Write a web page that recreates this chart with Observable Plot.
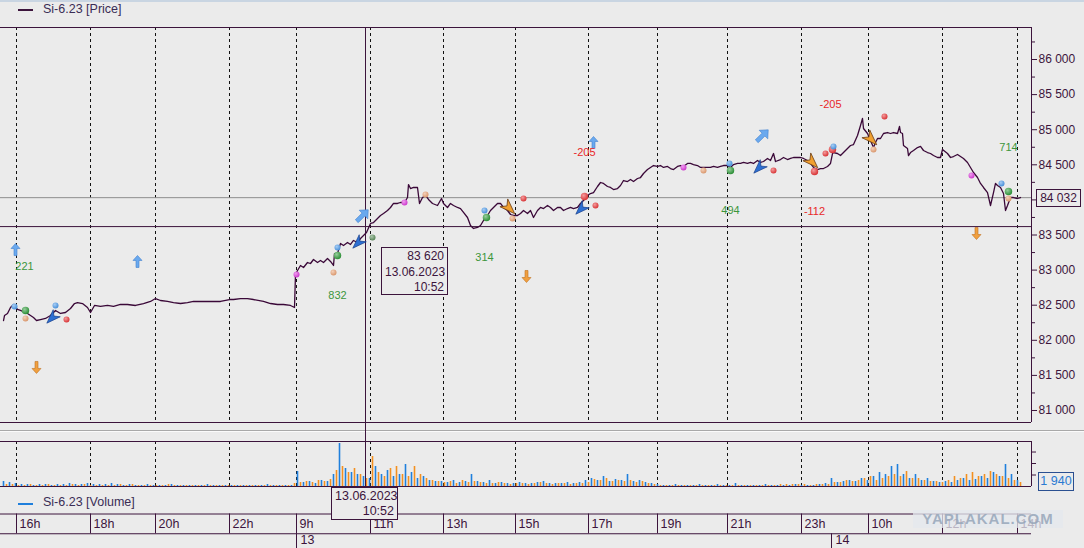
<!DOCTYPE html>
<html><head><meta charset="utf-8">
<script src="https://cdn.jsdelivr.net/npm/d3@7"></script>
<script src="https://cdn.jsdelivr.net/npm/@observablehq/plot@0.6"></script>
<style>
body{margin:0;background:#ebebeb;}
#wrap{position:relative;width:1084px;height:548px;overflow:hidden;background:#ebebeb;font-family:"Liberation Sans",Arial,sans-serif;color:#3c143c;}
.abs{position:absolute;}
.box{position:absolute;border:1px solid #3c143c;background:#ebebeb;text-align:right;font-size:12px;line-height:15px;padding:0 3px;box-sizing:border-box;white-space:nowrap;}
.leg{position:absolute;font-size:12.5px;color:#3a2d55;white-space:nowrap;}
.dash{position:absolute;height:1.5px;width:15px;}
</style></head><body><div id="wrap"></div>
<script>
// ---------------- data ----------------
const instrument = "Si-6.23";
const hourBars   = [16, 90, 155, 229, 296, 370, 443, 515, 588, 657, 727, 801, 868, 942, 1017];
const hourLabels = ["16h","18h","20h","22h","9h","11h","13h","15h","17h","19h","21h","23h","10h","12h","14h"];
const dayBars    = [296, 831];
const dayLabels  = ["13", "14"];
const priceTicks = [81000, 81500, 82000, 82500, 83000, 83500, 84000, 84500, 85000, 85500, 86000];
const lastPrice  = 84032;
const lastVolume = 1940;
const cursorBar  = 365;
const cursorPrice = 83620;
const cursorDate = "13.06.2023";
const cursorTime = "10:52";

const priceSeries = [[3,82282],[4,82353],[7,82382],[10,82467],[13,82510],[17,82439],[20,82425],[27,82382],[33,82325],[36,82282],[40,82296],[45,82311],[50,82353],[55,82425],[60,82382],[65,82396],[70,82453],[74,82524],[77,82538],[82,82524],[87,82467],[90,82396],[94,82496],[100,82482],[107,82496],[113,82482],[120,82510],[127,82510],[135,82496],[143,82524],[150,82553],[155,82595],[160,82567],[167,82553],[173,82538],[180,82524],[187,82538],[193,82553],[200,82553],[207,82553],[213,82553],[220,82553],[229,82581],[233,82581],[240,82595],[247,82595],[253,82581],[263,82553],[270,82524],[277,82510],[283,82510],[290,82496],[294,82467],[295,82937],[297,82994],[300,83066],[303,83037],[307,83108],[310,83094],[313,83151],[317,83108],[320,83137],[323,83108],[327,83165],[330,83123],[333,83066],[334,83236],[337,83236],[340,83379],[343,83350],[347,83393],[350,83365],[353,83422],[357,83393],[360,83450],[363,83493],[366,83536],[370,83664],[373,83678],[377,83735],[380,83778],[383,83806],[387,83849],[390,83892],[393,83949],[397,83949],[400,83963],[404,83963],[407,84034],[408,84219],[410,84162],[413,84177],[417,84177],[419,83949],[422,84034],[425,84063],[428,84006],[432,83949],[437,83920],[441,84020],[443,83949],[447,83892],[450,83949],[453,83920],[457,83892],[460,83877],[463,83821],[467,83749],[470,83635],[473,83593],[477,83607],[480,83635],[483,83707],[487,83778],[490,83849],[493,83892],[497,83949],[500,83949],[503,83892],[507,83849],[510,83792],[513,83778],[517,83778],[520,83806],[523,83849],[527,83806],[530,83849],[533,83749],[537,83849],[540,83892],[543,83877],[547,83920],[550,83892],[553,83849],[557,83892],[560,83892],[563,83849],[567,83877],[570,83892],[573,83877],[577,83892],[580,83949],[583,83991],[587,84063],[590,84091],[593,84105],[597,84191],[600,84248],[603,84234],[607,84191],[610,84177],[613,84148],[617,84162],[620,84205],[623,84276],[627,84262],[630,84291],[633,84262],[637,84305],[640,84319],[643,84376],[647,84433],[650,84462],[653,84490],[657,84476],[660,84490],[663,84462],[667,84476],[670,84447],[673,84433],[677,84476],[680,84490],[683,84476],[687,84519],[690,84519],[693,84504],[697,84490],[700,84462],[703,84462],[707,84462],[710,84462],[713,84476],[717,84462],[720,84476],[723,84490],[727,84490],[730,84462],[733,84504],[737,84519],[740,84519],[743,84533],[747,84519],[750,84533],[753,84519],[757,84561],[760,84533],[763,84547],[767,84590],[770,84561],[773,84661],[775,84547],[780,84575],[783,84604],[787,84575],[790,84590],[793,84604],[797,84604],[800,84604],[803,84590],[807,84561],[810,84519],[813,84462],[817,84433],[820,84447],[823,84447],[827,84476],[830,84519],[832,84661],[833,84675],[837,84661],[840,84632],[843,84675],[847,84732],[850,84775],[853,84789],[857,84917],[860,85060],[862,85160],[863,85017],[867,84946],[870,84846],[873,84746],[875,84818],[877,84875],[880,84875],[883,84946],[887,84960],[890,84946],[893,84960],[897,84946],[899,85046],[900,84960],[902,84946],[903,84775],[907,84732],[908,84632],[910,84675],[913,84704],[917,84746],[920,84761],[923,84704],[927,84675],[930,84661],[933,84632],[937,84604],[940,84604],[942,84718],[947,84661],[950,84604],[953,84618],[957,84647],[960,84618],[963,84590],[967,84533],[970,84462],[973,84390],[977,84319],[980,84234],[983,84177],[987,84105],[990,83920],[993,84105],[995,84234],[997,84205],[1000,84177],[1003,84091],[1005,83849],[1007,83920],[1010,84034],[1013,84034],[1017,84020],[1020,84034]];

// signal balls: [bar, price, kind, big?]
const balls = [[14,82482,"blue",0],[25,82311,"peach",0],[25,82425,"green",1],[55,82496,"blue",0],[66,82296,"red",0],
 [296,82937,"magenta",0],[333,82966,"peach",0],[337,83322,"blue",0],[337,83208,"green",1],[372,83464,"darkgreen",0],
 [404,83963,"magenta",0],[425,84077,"peach",0],[484,83849,"blue",0],[486,83749,"green",1],[512,83735,"peach",0],[523,84020,"red",0],
 [584,84048,"red",1],[595,83920,"red",0],[683,84462,"magenta",0],[703,84419,"peach",0],[729,84519,"blue",0],[730,84419,"green",1],
 [773,84419,"red",0],[814,84405,"red",1],[825,84661,"red",0],[832,84718,"red",1],[833,84761,"blue",0],[873,84718,"peach",0],
 [884,85188,"red",0],[971,84348,"magenta",0],[1001,84234,"blue",0],[1008,84020,"peach",0],[1008,84120,"green",1]];
const upArrows      = [[15,83293],[137,83123],[593,84818]];
const downArrows    = [[36,81613],[526,82909],[976,83521]];
const diagArrows    = [[362,83778],[762,84917]];
const blueCursors   = [[52,82325],[358,83393],[581,83877],[759,84462]];
const orangeCursors = [[508,83892],[811,84547],[870,84875]];
const greenLabels = [[24,83051,"221"],[337,82638,"832"],[484,83179,"314"],[730,83849,"494"],[1008,84746,"714"]];
const redLabels   = [[584,84675,"-205"],[830,85359,"-205"],[814,83835,"-112"]];

// volume (contracts), buy/sell sampled along bars
const buyVolume = [
 2180,1740,1300,870,870,430,870,870,430,870, 870,1300,870,870,1300,870,870,870,1300,870, 430,870,430,430,870,430,430,430,870,430, 430,430,430,430,870,430,430,430,430,430, 430,430,430,430,870,430,430,430,430,
 6530,1740,2180,1300,2610,2180,5220,18700,7830,6090,5220,4350,3480,
 8700,5220,6960,4350,5220,9570,6090,3480,4350,2610,2180,
 2180,1740,2610,1740,2180,5220,2180,1740,2610,1300,1740,1300,1300,1740,1300,1300,1740,2180,1300,1300,1300,1740,1300,1740,2610,
 3480,2610,4350,2180,3050,2610,5220,2180,2610,1740,1300,
 870,430,430,870,430,430,430,870,430,430, 870,430,430,1300,430,430,430,430,870,430, 430,430,430,870,430,430,430,870,1300,3480,
 1740,2180,2610,2180,3480,2610,4350,6090,5220,8700,9570,5220,3480,5220,2610,3480,2180,1740,
 2180,1740,2610,3480,2610,3050,4350,3480,6090,4350,9570,5220,2610];
const sellVolume = [
 870,870,430,430,870,430,430,870,430,430, 430,870,430,870,430,430,430,430,430,870, 430,870,430,430,430,430,430,870,430,430, 430,430,430,430,430,430,430,430,430,430, 430,430,430,430,430,430,430,430,1300,
 1740,2180,1740,2610,2180,3050,6960,8700,6090,7830,5220,3480,13050,
 6090,4350,7830,8700,5220,4350,8700,5220,3480,2610,2180,
 1740,2180,1300,2610,1740,2180,1740,1300,1300,1740,1300,870,1300,1300,870,1300,1740,1300,870,1300,1300,870,1300,1300,1740,
 3050,2610,3480,2180,2610,2180,2610,1740,2180,1300,870,
 430,430,430,430,430,430,430,430,430,430, 430,430,430,430,430,430,430,430,430,430, 870,870,870,870,870,430,870,870,870,1740,
 1740,2610,2180,2610,3480,4350,2610,3480,4350,5220,4350,6530,3480,3480,2610,2180,2180,1740,
 2610,4350,3480,5220,6090,4350,5220,6530,5220,4350,3480,2610,1740];
const buyBars  = d3.range(3, 1018, 6);
const sellBars = d3.range(6, 1021, 6);

// ---------------- styling ----------------
const ink = "#3c143c";
const W = 1084, MR = 53;
const xDomain = [0, 1031];
const priceDomain = [80829, 86456];
const volDomain = [0, 19575];
const fmt = d => d3.format(",")(d).replace(/,/g, " ");
const ballColors = {blue:"#4e9be9", green:"#2f9a3a", peach:"#e9a275", red:"#e8383a", magenta:"#dc3cdc", darkgreen:"#5d8f5d"};
const baseStyle = {background:"transparent", overflow:"visible", fontFamily:"'Liberation Sans', Arial, sans-serif", fontSize:"12px", color: ink};

function shape(points, angle, scale = 1) {
  const c = Math.cos(angle), s = Math.sin(angle);
  return {draw(ctx) {
    points.forEach(([x, y], i) => {
      const X = (x * c - y * s) * scale, Y = (x * s + y * c) * scale;
      i ? ctx.lineTo(X, Y) : ctx.moveTo(X, Y);
    });
    ctx.closePath();
  }};
}
const blockArrow = [[0,-6],[4.5,-1],[1.5,-1],[1.5,6],[-1.5,6],[-1.5,-1],[-4.5,-1]];
const pointer = [[0,8],[-5,-6],[0,-2],[5,-6]];

const wrap = document.getElementById("wrap");
function place(el, top) { el.style.position = "absolute"; el.style.left = "0px"; el.style.top = top + "px"; wrap.appendChild(el); return el; }
function div(cls, css, html) { const d = document.createElement("div"); if (cls) d.className = cls; d.style.cssText = css; if (html != null) d.innerHTML = html; wrap.appendChild(d); return d; }

// top strip and legends
div("abs", "left:0;top:0;width:1084px;height:2px;background:#c9d5e2;");
div("dash", "left:18px;top:9px;background:" + ink + ";");
div("leg", "left:43px;top:2px;", instrument + " [Price]");

// ---------------- price panel ----------------
const priceChart = Plot.plot({
  width: W, height: 430, marginLeft: 0, marginRight: MR, marginTop: 27, marginBottom: 8,
  x: {domain: xDomain, axis: null},
  y: {domain: priceDomain, axis: null},
  style: baseStyle,
  marks: [
    Plot.ruleX(hourBars, {stroke: "#111", strokeDasharray: "3,3"}),
    Plot.ruleY([lastPrice], {stroke: "#8e8e8e"}),
    Plot.ruleY([cursorPrice], {stroke: ink}),
    Plot.ruleX([cursorBar], {stroke: ink}),
    Plot.line(priceSeries, {x: d => d[0], y: d => d[1], stroke: "#3a0838", strokeWidth: 1.3}),
    Plot.dot(balls, {x: d => d[0], y: d => d[1], r: d => d[3] ? 6 : 3.9, fill: d => `url(#ball-${d[2]})`, stroke: "none"}),
    Plot.dot(upArrows, {x: d => d[0], y: d => d[1], symbol: shape(blockArrow, 0), fill: "#6aa9ee", stroke: "#3f7fcf", strokeWidth: 0.6}),
    Plot.dot(downArrows, {x: d => d[0], y: d => d[1], symbol: shape(blockArrow, Math.PI), fill: "#f0a040", stroke: "#c07020", strokeWidth: 0.6}),
    Plot.dot(diagArrows, {x: d => d[0], y: d => d[1], symbol: shape(blockArrow, Math.PI / 4, 1.35), fill: "#6aa9ee", stroke: "#3f7fcf", strokeWidth: 0.6}),
    Plot.dot(blueCursors, {x: d => d[0], y: d => d[1], symbol: shape(pointer, Math.PI / 4), fill: "#2d6fd2", stroke: "#173d8a", strokeWidth: 0.7}),
    Plot.dot(orangeCursors, {x: d => d[0], y: d => d[1], symbol: shape(pointer, -Math.PI / 4, 1.1), fill: "#f0a030", stroke: "#6a3a10", strokeWidth: 0.8}),
    Plot.text(greenLabels, {x: d => d[0], y: d => d[1], text: d => d[2], fill: "#3c963c", fontSize: 11}),
    Plot.text(redLabels, {x: d => d[0], y: d => d[1], text: d => d[2], fill: "#e8282a", fontSize: 11}),
    Plot.ruleY(priceDomain, {stroke: ink}),
    Plot.ruleX([xDomain[1]], {stroke: ink}),
    Plot.axisY({anchor: "right", ticks: priceTicks, tickSize: 5, tickPadding: 2, tickFormat: fmt, color: ink, fontSize: 12}),
    Plot.axisY({anchor: "right", ticks: d3.range(81250, 86456, 500), tickSize: 3, tickFormat: () => "", color: ink})
  ]
});
place(priceChart, 0);
const defs = d3.select(priceChart).insert("defs", ":first-child");
for (const [k, c] of Object.entries(ballColors)) {
  const g = defs.append("radialGradient").attr("id", "ball-" + k).attr("cx", "38%").attr("cy", "35%").attr("r", "65%");
  g.append("stop").attr("offset", "0%").attr("stop-color", d3.interpolateRgb(c, "#fff")(0.5));
  g.append("stop").attr("offset", "100%").attr("stop-color", d3.color(c).darker(0.2));
}
const px = priceChart.scale("x"), py = priceChart.scale("y");
const cx = px.apply(cursorBar), cy = py.apply(cursorPrice);

// price tooltip + last-price label
div("box", `left:${cx + 16}px;top:${cy + 21}px;width:67px;height:48px;padding-top:1px;line-height:15.5px;`,
    `${fmt(cursorPrice)}<br>${cursorDate}<br>${cursorTime}`);
div("box", `left:1036px;top:${py.apply(lastPrice) - 8}px;width:45px;height:18px;text-align:center;padding:0;line-height:16px;`, fmt(lastPrice));

// separator between panels
div("abs", "left:0;top:430px;width:1084px;height:1px;background:#a9a9a9;");
div("abs", "left:0;top:431px;width:1084px;height:1px;background:#fbfbfb;");

// ---------------- volume panel ----------------
const volChart = Plot.plot({
  width: W, height: 52, marginLeft: 0, marginRight: MR, marginTop: 4, marginBottom: 3,
  x: {domain: xDomain, axis: null},
  y: {domain: volDomain, axis: null},
  style: baseStyle,
  marks: [
    Plot.ruleX(hourBars, {stroke: "#111", strokeDasharray: "3,3"}),
    Plot.ruleX(buyVolume, {x: (d, i) => buyBars[i], y1: 0, y2: d => d, stroke: "#1f7fdc", strokeWidth: 1.6}),
    Plot.ruleX(sellVolume, {x: (d, i) => sellBars[i], y1: 0, y2: d => d, stroke: "#f39020", strokeWidth: 1.6}),
    Plot.ruleX([cursorBar], {stroke: ink}),
    Plot.ruleY(volDomain, {stroke: ink}),
    Plot.ruleX([xDomain[1]], {stroke: ink}),
    Plot.axisY({anchor: "right", ticks: [5000, 10000, 15000], tickSize: 4, tickFormat: () => "", color: ink})
  ]
});
place(volChart, 437);
const vy = volChart.scale("y");
div("abs", `left:${cx - 0.5}px;top:422px;width:1px;height:19px;background:${ink};`);
div("box", `left:1038px;top:${437 + vy.apply(lastVolume) - 9.5}px;width:36px;height:19px;text-align:center;padding:0;line-height:17px;color:#2a7ad2;border-color:#2a4f90;font-size:12.5px;`, fmt(lastVolume));

div("dash", "left:18px;top:503px;background:#1f7fdc;");
div("leg", "left:43px;top:495px;", instrument + " [Volume]");

// ---------------- time axis ----------------
const axisChart = Plot.plot({
  width: W, height: 40, marginLeft: 0, marginRight: MR, marginTop: 0.5, marginBottom: 0,
  x: {domain: xDomain, axis: null},
  y: {domain: [0, 2], reverse: true, axis: null},
  style: baseStyle,
  marks: [
    Plot.ruleY([0, 1], {stroke: ink}),
    Plot.ruleX(hourBars, {y1: 0, y2: 1, stroke: ink}),
    Plot.ruleX(dayBars, {y1: 1, y2: 2, stroke: ink}),
    Plot.text(hourLabels, {x: (d, i) => hourBars[i], y: 0.5, text: d => d, dx: 3, textAnchor: "start", fill: ink, fontSize: 12.5}),
    Plot.text(dayLabels, {x: (d, i) => dayBars[i], y: 1.5, text: d => d, dx: 4, dy: -4, textAnchor: "start", fill: ink, fontSize: 12.5})
  ]
});
place(axisChart, 513);

// cursor date tooltip
div("box", `left:${cx - 34}px;top:487px;width:67px;height:33px;line-height:15px;padding-top:1px;font-size:12.5px;`, `${cursorDate}<br>${cursorTime}`);

// watermark
div("abs", "left:913px;top:510px;width:150px;height:18px;background:rgba(228,232,238,0.75);color:rgba(150,166,186,0.85);font-weight:bold;font-size:15px;letter-spacing:1px;line-height:18px;text-align:center;", "YAPLAKAL.COM");
</script></body></html>
